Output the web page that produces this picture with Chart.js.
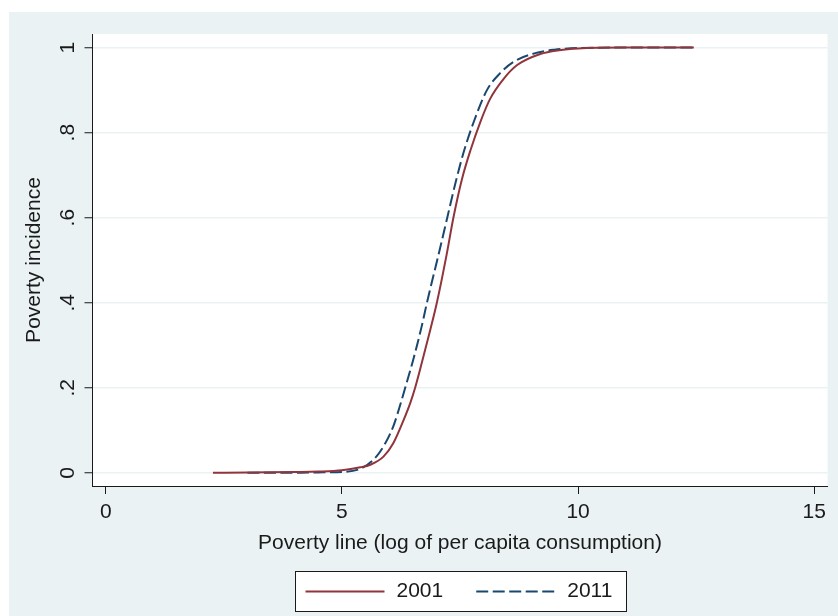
<!DOCTYPE html>
<html lang="en">
<head>
<meta charset="UTF-8">
<title>Poverty incidence curves</title>
<script src="https://cdn.jsdelivr.net/npm/chart.js"></script>
<style>
  html, body { margin: 0; padding: 0; background: #fff; }
</style>
</head>
<body>
<canvas id="povChart" width="838" height="616"></canvas>
<script>
// poverty line (log of per capita consumption) and share of people below it
const x2001 = [2.27, 3.0, 4.0, 4.5, 5.0, 5.39, 5.6, 5.88, 6.09, 6.31, 6.45, 6.55, 6.69, 6.87, 7.01, 7.22, 7.36, 7.54, 7.72, 7.93, 8.14, 8.42, 8.71, 9.2, 9.6, 10.0, 11.0, 12.45];
const y2001 = [0, 0.001, 0.002, 0.003, 0.006, 0.013, 0.019, 0.038, 0.07, 0.125, 0.165, 0.20, 0.258, 0.336, 0.40, 0.515, 0.60, 0.69, 0.758, 0.825, 0.88, 0.926, 0.959, 0.985, 0.994, 0.998, 1.0, 1.0];
const x2011 = [3.0, 4.0, 4.5, 5.0, 5.4, 5.67, 5.88, 6.09, 6.24, 6.34, 6.52, 6.69, 6.80, 7.05, 7.23, 7.40, 7.58, 7.79, 8.07, 8.35, 8.64, 9.13, 9.5, 10.0, 11.0, 12.48];
const y2011 = [0, 0, 0.001, 0.002, 0.01, 0.031, 0.062, 0.11, 0.162, 0.20, 0.27, 0.345, 0.40, 0.515, 0.60, 0.68, 0.755, 0.825, 0.90, 0.94, 0.967, 0.988, 0.995, 0.999, 1.0, 1.0];
const seriesLabels = ['2001', '2011'];
const xTickValues = [0, 5, 10, 15];
const yTickValues = [0, 0.2, 0.4, 0.6, 0.8, 1];
const yTickLabels = ['0', '.2', '.4', '.6', '.8', '1'];

const ink = '#1a1a1a';
const bgColor = 'rgb(234,242,243)';
const txtFont = { family: '"Liberation Sans", Arial, sans-serif', size: 21 };

const toPoints = (xs, ys) => xs.map((x, i) => ({ x: x, y: ys[i] }));

// stata style backdrop: light region with a white plot area
const stataBackground = {
    id: 'stataBackground',
    beforeDraw(chart) {
        const ctx = chart.ctx, a = chart.chartArea;
        ctx.save();
        ctx.fillStyle = '#ffffff';
        ctx.fillRect(0, 0, chart.width, chart.height);
        ctx.fillStyle = bgColor;
        ctx.fillRect(9, 12, chart.width - 9, chart.height - 12);
        ctx.fillStyle = '#ffffff';
        ctx.fillRect(a.left, a.top, a.right - a.left, a.bottom - a.top);
        ctx.restore();
    }
};

// legend in a white box under the axis title
const boxedLegend = {
    id: 'boxedLegend',
    afterDraw(chart) {
        const ctx = chart.ctx, a = chart.chartArea;
        const w = 331, h = 40;
        const left = Math.round((a.left + a.right) / 2 - w / 2) + 0.5;
        const top = 571.5;
        ctx.save();
        ctx.fillStyle = '#ffffff';
        ctx.fillRect(left, top, w, h);
        ctx.strokeStyle = ink;
        ctx.lineWidth = 1;
        ctx.strokeRect(left, top, w, h);
        ctx.font = txtFont.size + 'px ' + txtFont.family;
        ctx.textBaseline = 'middle';
        const cy = top + h / 2;
        let x = left + 10;
        chart.data.datasets.forEach(ds => {
            ctx.strokeStyle = ds.borderColor;
            ctx.lineWidth = ds.borderWidth;
            ctx.setLineDash(ds.borderDash || []);
            ctx.beginPath();
            ctx.moveTo(x, cy);
            ctx.lineTo(x + 79, cy);
            ctx.stroke();
            ctx.setLineDash([]);
            ctx.fillStyle = ink;
            ctx.fillText(ds.label, x + 91, cy);
            x += 91 + ctx.measureText(ds.label).width + 33;
        });
        ctx.restore();
    }
};

new Chart(document.getElementById('povChart'), {
    type: 'line',
    data: {
        datasets: [{
            label: seriesLabels[0],
            data: toPoints(x2001, y2001),
            borderColor: 'rgb(144,53,59)',
            borderWidth: 2,
            pointRadius: 0,
            cubicInterpolationMode: 'monotone',
            fill: false
        }, {
            label: seriesLabels[1],
            data: toPoints(x2011, y2011),
            borderColor: 'rgb(26,71,111)',
            borderWidth: 2,
            borderDash: [12, 4.5],
            pointRadius: 0,
            cubicInterpolationMode: 'monotone',
            fill: false
        }]
    },
    options: {
        responsive: false,
        animation: false,
        devicePixelRatio: 1,
        layout: { padding: { left: 9, top: 34, right: 10.5, bottom: 50 } },
        plugins: {
            legend: { display: false },
            tooltip: { enabled: false }
        },
        scales: {
            x: {
                type: 'linear',
                min: -0.28,
                max: 15.28,
                afterBuildTicks: s => { s.ticks = xTickValues.map(v => ({ value: v })); },
                afterFit: s => { s.height = 80; },
                ticks: { font: txtFont, color: ink, padding: 6, maxRotation: 0 },
                grid: { drawOnChartArea: false, color: ink, tickColor: ink, tickLength: 8, tickWidth: 1 },
                border: { color: ink, width: 1 },
                title: { display: true, text: 'Poverty line (log of per capita consumption)', font: txtFont, color: ink, padding: { top: 0, bottom: 10 } }
            },
            y: {
                type: 'linear',
                min: -0.031,
                max: 1.032,
                afterBuildTicks: s => { s.ticks = yTickValues.map(v => ({ value: v })); },
                afterFit: s => { s.width = 83.5; },
                ticks: {
                    font: txtFont, color: ink, padding: 8,
                    minRotation: 90, maxRotation: 90, crossAlign: 'center',
                    callback: v => yTickLabels[yTickValues.indexOf(v)]
                },
                grid: { color: bgColor, lineWidth: 1.5, tickColor: ink, tickLength: 8, tickWidth: 1 },
                border: { color: ink, width: 1 },
                title: { display: true, text: 'Poverty incidence', font: txtFont, color: ink, padding: { top: 13, bottom: 0 } }
            }
        }
    },
    plugins: [stataBackground, boxedLegend]
});
</script>
</body>
</html>
